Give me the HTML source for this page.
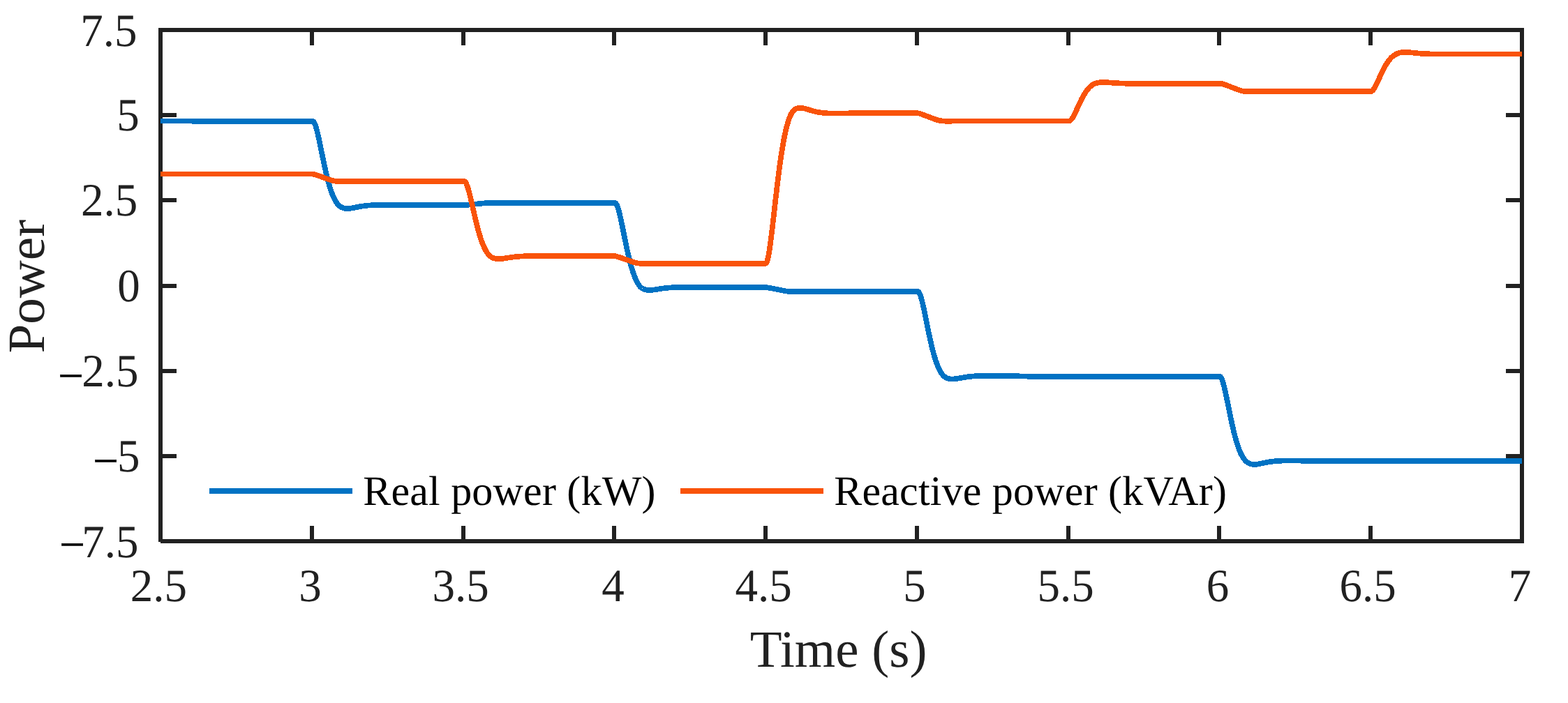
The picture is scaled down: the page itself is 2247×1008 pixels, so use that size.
<!DOCTYPE html>
<html lang="en"><head><meta charset="utf-8"><title>Power vs Time</title>
<style>html,body{margin:0;padding:0;background:#fff}body{width:2247px;height:1008px;overflow:hidden}svg{display:block}text{font-family:"Liberation Serif",serif;text-rendering:geometricPrecision}</style></head><body>
<svg width="2247" height="1008" viewBox="0 0 2247 1008">
<rect width="2247" height="1008" fill="#fff"/>
<g fill="#212121" shape-rendering="crispEdges">
<rect x="444" y="754" width="6" height="22"/>
<rect x="444" y="43" width="6" height="22"/>
<rect x="661" y="754" width="6" height="22"/>
<rect x="661" y="43" width="6" height="22"/>
<rect x="877" y="754" width="6" height="22"/>
<rect x="877" y="43" width="6" height="22"/>
<rect x="1094" y="754" width="6" height="22"/>
<rect x="1094" y="43" width="6" height="22"/>
<rect x="1311" y="754" width="6" height="22"/>
<rect x="1311" y="43" width="6" height="22"/>
<rect x="1528" y="754" width="6" height="22"/>
<rect x="1528" y="43" width="6" height="22"/>
<rect x="1744" y="754" width="6" height="22"/>
<rect x="1744" y="43" width="6" height="22"/>
<rect x="1961" y="754" width="6" height="22"/>
<rect x="1961" y="43" width="6" height="22"/>
<rect x="230" y="162" width="23" height="6"/>
<rect x="2158" y="162" width="23" height="6"/>
<rect x="230" y="284" width="23" height="6"/>
<rect x="2158" y="284" width="23" height="6"/>
<rect x="230" y="407" width="23" height="6"/>
<rect x="2158" y="407" width="23" height="6"/>
<rect x="230" y="529" width="23" height="6"/>
<rect x="2158" y="529" width="23" height="6"/>
<rect x="230" y="651" width="23" height="6"/>
<rect x="2158" y="651" width="23" height="6"/>
<rect x="227" y="40" width="1957" height="6"/>
<rect x="230" y="773" width="1954" height="6"/>
<rect x="227" y="40" width="6" height="737"/>
<rect x="2178" y="40" width="6" height="739"/>
</g>
<g fill="none" stroke-linejoin="round" stroke-linecap="butt" stroke-width="7.70" shape-rendering="crispEdges">
<path stroke="#0072C3" d="M230.0,173.60 L270.0,173.60 L270.5,173.60 L271.0,173.61 L271.5,173.61 L272.0,173.62 L272.5,173.62 L273.0,173.63 L273.5,173.63 L274.0,173.64 L274.5,173.65 L275.0,173.65 L275.5,173.66 L276.0,173.66 L276.5,173.67 L277.0,173.68 L277.5,173.68 L278.0,173.69 L278.5,173.70 L279.0,173.70 L279.5,173.71 L280.0,173.72 L280.5,173.72 L281.0,173.73 L281.5,173.74 L282.0,173.74 L282.5,173.75 L283.0,173.76 L283.5,173.76 L284.0,173.77 L284.5,173.78 L285.0,173.79 L285.5,173.79 L286.0,173.80 L286.5,173.81 L287.0,173.81 L287.5,173.82 L288.0,173.83 L288.5,173.83 L289.0,173.84 L289.5,173.85 L290.0,173.85 L290.5,173.86 L291.0,173.87 L291.5,173.87 L292.0,173.88 L292.5,173.89 L293.0,173.89 L293.5,173.90 L294.0,173.91 L294.5,173.91 L295.0,173.92 L295.5,173.93 L296.0,173.93 L296.5,173.94 L297.0,173.94 L297.5,173.95 L298.0,173.95 L298.5,173.96 L299.0,173.96 L299.5,173.97 L300.0,173.97 L300.5,173.98 L301.0,173.98 L301.5,173.98 L302.0,173.99 L302.5,173.99 L303.0,173.99 L303.5,173.99 L304.0,174.00 L304.5,174.00 L448.0,174.00 L448.5,174.02 L449.0,174.23 L449.5,174.67 L450.0,175.31 L450.5,176.15 L451.0,177.17 L451.5,178.35 L452.0,179.69 L452.5,181.18 L453.0,182.79 L453.5,184.52 L454.0,186.36 L454.5,188.30 L455.0,190.33 L455.5,192.44 L456.0,194.62 L456.5,196.86 L457.0,199.15 L457.5,201.49 L458.0,203.86 L458.5,206.27 L459.0,208.70 L459.5,211.15 L460.0,213.61 L460.5,216.08 L461.0,218.55 L461.5,221.01 L462.0,223.47 L462.5,225.91 L463.0,228.34 L463.5,230.75 L464.0,233.13 L464.5,235.49 L465.0,237.82 L465.5,240.11 L466.0,242.37 L466.5,244.59 L467.0,246.77 L467.5,248.91 L468.0,251.01 L468.5,253.06 L469.0,255.07 L469.5,257.03 L470.0,258.94 L470.5,260.80 L471.0,262.62 L471.5,264.38 L472.0,266.10 L472.5,267.76 L473.0,269.37 L473.5,270.93 L474.0,272.44 L474.5,273.91 L475.0,275.32 L475.5,276.68 L476.0,277.99 L476.5,279.25 L477.0,280.46 L477.5,281.63 L478.0,282.75 L478.5,283.82 L479.0,284.84 L479.5,285.83 L480.0,286.76 L480.5,287.66 L481.0,288.51 L481.5,289.32 L482.0,290.09 L482.5,290.82 L483.0,291.51 L483.5,292.16 L484.0,292.78 L484.5,293.36 L485.0,293.91 L485.5,294.41 L486.0,294.86 L486.5,295.28 L487.0,295.67 L487.5,296.03 L488.0,296.37 L488.5,296.68 L489.0,296.97 L489.5,297.23 L490.0,297.47 L490.5,297.69 L491.0,297.90 L491.5,298.08 L492.0,298.24 L492.5,298.38 L493.0,298.51 L493.5,298.62 L494.0,298.72 L494.5,298.80 L495.0,298.86 L495.5,298.92 L496.0,298.96 L496.5,298.98 L497.0,299.00 L497.5,299.01 L498.0,299.01 L498.5,298.99 L499.0,298.97 L499.5,298.94 L500.0,298.91 L500.5,298.86 L501.0,298.81 L501.5,298.76 L502.0,298.70 L502.5,298.63 L503.0,298.56 L503.5,298.48 L504.0,298.41 L504.5,298.32 L505.0,298.24 L505.5,298.15 L506.0,298.06 L506.5,297.97 L507.0,297.87 L507.5,297.78 L508.0,297.68 L508.5,297.58 L509.0,297.48 L509.5,297.39 L510.0,297.29 L510.5,297.19 L511.0,297.09 L511.5,296.99 L512.0,296.89 L512.5,296.80 L513.0,296.70 L513.5,296.61 L514.0,296.51 L514.5,296.42 L515.0,296.33 L515.5,296.24 L516.0,296.15 L516.5,296.06 L517.0,295.98 L517.5,295.90 L518.0,295.81 L518.5,295.73 L519.0,295.66 L519.5,295.58 L520.0,295.51 L520.5,295.44 L521.0,295.37 L521.5,295.30 L522.0,295.23 L522.5,295.17 L523.0,295.11 L523.5,295.05 L524.0,294.99 L524.5,294.93 L525.0,294.88 L525.5,294.83 L526.0,294.78 L526.5,294.73 L527.0,294.68 L527.5,294.64 L528.0,294.60 L528.5,294.56 L529.0,294.52 L529.5,294.48 L530.0,294.45 L530.5,294.41 L531.0,294.38 L531.5,294.35 L532.0,294.32 L532.5,294.30 L533.0,294.27 L533.5,294.25 L534.0,294.22 L534.5,294.20 L535.0,294.18 L535.5,294.16 L536.0,294.14 L536.5,294.12 L537.0,294.11 L537.5,294.09 L538.0,294.08 L538.5,294.07 L539.0,294.05 L539.5,294.04 L540.0,294.03 L540.5,294.02 L541.0,294.02 L541.5,294.01 L542.0,294.00 L542.5,294.00 L543.0,293.99 L543.5,293.99 L544.0,293.98 L544.5,293.98 L545.0,293.98 L545.5,293.98 L546.0,293.98 L548.0,293.98 L548.5,293.98 L549.0,293.98 L549.5,293.98 L550.0,293.98 L550.5,293.99 L551.0,293.99 L551.5,293.99 L552.0,293.99 L552.5,294.00 L553.0,294.00 L553.5,294.01 L554.0,294.01 L554.5,294.01 L555.0,294.02 L555.5,294.02 L556.0,294.03 L556.5,294.03 L557.0,294.03 L557.5,294.04 L558.0,294.04 L558.5,294.05 L559.0,294.05 L559.5,294.06 L560.0,294.06 L560.5,294.07 L561.0,294.07 L561.5,294.08 L562.0,294.08 L562.5,294.09 L563.0,294.09 L563.5,294.09 L564.0,294.10 L564.5,294.10 L565.0,294.11 L565.5,294.11 L566.0,294.11 L566.5,294.12 L567.0,294.12 L567.5,294.13 L568.0,294.13 L568.5,294.13 L569.0,294.14 L569.5,294.14 L570.0,294.14 L570.5,294.15 L571.0,294.15 L571.5,294.15 L572.0,294.16 L572.5,294.16 L573.0,294.16 L573.5,294.16 L574.0,294.17 L574.5,294.17 L575.0,294.17 L575.5,294.17 L576.0,294.18 L576.5,294.18 L577.0,294.18 L577.5,294.18 L578.0,294.18 L578.5,294.19 L579.0,294.19 L579.5,294.19 L580.0,294.19 L580.5,294.19 L581.0,294.19 L581.5,294.19 L582.0,294.20 L582.5,294.20 L583.0,294.20 L583.5,294.20 L584.5,294.20 L585.5,294.20 L586.5,294.20 L587.5,294.21 L589.0,294.21 L590.5,294.21 L593.0,294.21 L604.0,294.21 L607.0,294.21 L610.0,294.21 L613.0,294.20 L616.5,294.20 L620.5,294.20 L625.5,294.20 L634.5,294.20 L665.0,294.20 L665.5,294.17 L666.0,294.13 L666.5,294.09 L667.0,294.06 L667.5,294.02 L668.0,293.97 L668.5,293.93 L669.0,293.89 L669.5,293.84 L670.0,293.80 L670.5,293.75 L671.0,293.70 L671.5,293.65 L672.0,293.60 L672.5,293.55 L673.0,293.50 L673.5,293.45 L674.0,293.40 L674.5,293.35 L675.0,293.29 L675.5,293.24 L676.0,293.19 L676.5,293.14 L677.0,293.08 L677.5,293.03 L678.0,292.98 L678.5,292.93 L679.0,292.87 L679.5,292.82 L680.0,292.77 L680.5,292.71 L681.0,292.66 L681.5,292.60 L682.0,292.55 L682.5,292.50 L683.0,292.44 L683.5,292.39 L684.0,292.34 L684.5,292.29 L685.0,292.24 L685.5,292.18 L686.0,292.13 L686.5,292.08 L687.0,292.02 L687.5,291.97 L688.0,291.92 L688.5,291.87 L689.0,291.82 L689.5,291.77 L690.0,291.72 L690.5,291.67 L691.0,291.63 L691.5,291.58 L692.0,291.54 L692.5,291.50 L693.0,291.46 L693.5,291.42 L694.0,291.38 L694.5,291.35 L695.0,291.31 L695.5,291.28 L696.0,291.26 L696.5,291.23 L697.0,291.20 L697.5,291.18 L698.0,291.16 L698.5,291.14 L699.0,291.12 L699.5,291.11 L700.0,291.10 L881.0,291.10 L881.5,291.10 L882.0,291.27 L882.5,291.67 L883.0,292.27 L883.5,293.08 L884.0,294.07 L884.5,295.23 L885.0,296.55 L885.5,298.01 L886.0,299.61 L886.5,301.33 L887.0,303.17 L887.5,305.10 L888.0,307.13 L888.5,309.23 L889.0,311.41 L889.5,313.65 L890.0,315.95 L890.5,318.30 L891.0,320.68 L891.5,323.10 L892.0,325.54 L892.5,328.00 L893.0,330.48 L893.5,332.96 L894.0,335.45 L894.5,337.93 L895.0,340.41 L895.5,342.87 L896.0,345.32 L896.5,347.75 L897.0,350.15 L897.5,352.53 L898.0,354.88 L898.5,357.19 L899.0,359.47 L899.5,361.72 L900.0,363.92 L900.5,366.08 L901.0,368.20 L901.5,370.28 L902.0,372.31 L902.5,374.29 L903.0,376.23 L903.5,378.11 L904.0,379.95 L904.5,381.73 L905.0,383.47 L905.5,385.15 L906.0,386.79 L906.5,388.37 L907.0,389.90 L907.5,391.38 L908.0,392.81 L908.5,394.19 L909.0,395.52 L909.5,396.80 L910.0,398.03 L910.5,399.21 L911.0,400.35 L911.5,401.44 L912.0,402.48 L912.5,403.48 L913.0,404.43 L913.5,405.34 L914.0,406.20 L914.5,407.03 L915.0,407.81 L915.5,408.55 L916.0,409.26 L916.5,409.92 L917.0,410.55 L917.5,411.14 L918.0,411.70 L918.5,412.19 L919.0,412.56 L919.5,412.90 L920.0,413.22 L920.5,413.52 L921.0,413.79 L921.5,414.05 L922.0,414.28 L922.5,414.50 L923.0,414.70 L923.5,414.88 L924.0,415.05 L924.5,415.19 L925.0,415.33 L925.5,415.45 L926.0,415.55 L926.5,415.64 L927.0,415.72 L927.5,415.79 L928.0,415.84 L928.5,415.89 L929.0,415.92 L929.5,415.95 L930.0,415.97 L930.5,415.97 L931.0,415.97 L931.5,415.96 L932.0,415.95 L932.5,415.93 L933.0,415.90 L933.5,415.86 L934.0,415.82 L934.5,415.78 L935.0,415.73 L935.5,415.68 L936.0,415.62 L936.5,415.56 L937.0,415.50 L937.5,415.43 L938.0,415.37 L938.5,415.29 L939.0,415.22 L939.5,415.15 L940.0,415.07 L940.5,415.00 L941.0,414.92 L941.5,414.84 L942.0,414.76 L942.5,414.68 L943.0,414.60 L943.5,414.52 L944.0,414.44 L944.5,414.36 L945.0,414.28 L945.5,414.21 L946.0,414.13 L946.5,414.05 L947.0,413.98 L947.5,413.90 L948.0,413.83 L948.5,413.76 L949.0,413.68 L949.5,413.61 L950.0,413.55 L950.5,413.48 L951.0,413.41 L951.5,413.35 L952.0,413.29 L952.5,413.22 L953.0,413.16 L953.5,413.11 L954.0,413.05 L954.5,412.99 L955.0,412.94 L955.5,412.89 L956.0,412.84 L956.5,412.79 L957.0,412.74 L957.5,412.70 L958.0,412.66 L958.5,412.61 L959.0,412.57 L959.5,412.54 L960.0,412.50 L960.5,412.46 L961.0,412.43 L961.5,412.40 L962.0,412.36 L962.5,412.33 L963.0,412.31 L963.5,412.28 L964.0,412.25 L964.5,412.23 L965.0,412.20 L965.5,412.18 L966.0,412.16 L966.5,412.14 L967.0,412.12 L967.5,412.11 L968.0,412.09 L968.5,412.07 L969.0,412.05 L969.5,412.03 L970.0,412.01 L970.5,412.00 L971.0,411.98 L971.5,411.97 L972.0,411.96 L972.5,411.94 L973.0,411.93 L973.5,411.92 L974.0,411.92 L974.5,411.91 L975.0,411.90 L975.5,411.90 L976.0,411.89 L976.5,411.89 L977.0,411.88 L977.5,411.88 L978.0,411.88 L978.5,411.88 L979.0,411.87 L981.0,411.87 L981.5,411.88 L982.0,411.88 L982.5,411.88 L983.0,411.88 L983.5,411.88 L984.0,411.89 L984.5,411.89 L985.0,411.89 L985.5,411.90 L986.0,411.90 L986.5,411.90 L987.0,411.91 L987.5,411.91 L988.0,411.92 L988.5,411.92 L989.0,411.92 L989.5,411.93 L990.0,411.93 L990.5,411.94 L991.0,411.94 L991.5,411.95 L992.0,411.95 L992.5,411.96 L993.0,411.96 L993.5,411.97 L994.0,411.97 L994.5,411.97 L995.0,411.98 L995.5,411.98 L996.0,411.99 L996.5,411.99 L997.0,412.00 L997.5,412.00 L998.0,412.01 L998.5,412.01 L999.0,412.01 L999.5,412.02 L1000.0,412.02 L1000.5,412.02 L1001.0,412.03 L1001.5,412.03 L1002.0,412.04 L1002.5,412.04 L1003.0,412.04 L1003.5,412.05 L1004.0,412.05 L1004.5,412.05 L1005.0,412.06 L1005.5,412.06 L1006.0,412.06 L1006.5,412.06 L1007.0,412.07 L1007.5,412.07 L1008.0,412.07 L1008.5,412.07 L1009.0,412.08 L1009.5,412.08 L1010.0,412.08 L1010.5,412.08 L1011.0,412.08 L1011.5,412.09 L1012.0,412.09 L1012.5,412.09 L1013.0,412.09 L1013.5,412.09 L1014.0,412.09 L1014.5,412.09 L1015.0,412.10 L1015.5,412.10 L1016.0,412.10 L1016.5,412.10 L1017.5,412.10 L1018.5,412.10 L1019.5,412.10 L1021.0,412.10 L1022.5,412.11 L1025.0,412.11 L1038.5,412.11 L1042.0,412.10 L1045.5,412.10 L1049.5,412.10 L1054.5,412.10 L1061.5,412.10 L1098.0,412.10 L1098.5,412.16 L1099.0,412.23 L1099.5,412.30 L1100.0,412.37 L1100.5,412.45 L1101.0,412.53 L1101.5,412.61 L1102.0,412.69 L1102.5,412.78 L1103.0,412.87 L1103.5,412.96 L1104.0,413.05 L1104.5,413.14 L1105.0,413.24 L1105.5,413.33 L1106.0,413.43 L1106.5,413.53 L1107.0,413.63 L1107.5,413.73 L1108.0,413.83 L1108.5,413.93 L1109.0,414.02 L1109.5,414.12 L1110.0,414.22 L1110.5,414.32 L1111.0,414.42 L1111.5,414.52 L1112.0,414.63 L1112.5,414.73 L1113.0,414.83 L1113.5,414.93 L1114.0,415.03 L1114.5,415.14 L1115.0,415.24 L1115.5,415.34 L1116.0,415.44 L1116.5,415.54 L1117.0,415.64 L1117.5,415.74 L1118.0,415.84 L1118.5,415.94 L1119.0,416.04 L1119.5,416.14 L1120.0,416.24 L1120.5,416.34 L1121.0,416.44 L1121.5,416.54 L1122.0,416.63 L1122.5,416.73 L1123.0,416.82 L1123.5,416.91 L1124.0,417.00 L1124.5,417.08 L1125.0,417.16 L1125.5,417.24 L1126.0,417.32 L1126.5,417.39 L1127.0,417.46 L1127.5,417.53 L1128.0,417.59 L1128.5,417.65 L1129.0,417.71 L1129.5,417.76 L1130.0,417.80 L1130.5,417.85 L1131.0,417.89 L1131.5,417.93 L1132.0,417.96 L1132.5,417.99 L1133.0,418.00 L1315.0,418.00 L1315.5,418.02 L1316.0,418.23 L1316.5,418.67 L1317.0,419.32 L1317.5,420.17 L1318.0,421.19 L1318.5,422.39 L1319.0,423.74 L1319.5,425.23 L1320.0,426.86 L1320.5,428.60 L1321.0,430.46 L1321.5,432.41 L1322.0,434.46 L1322.5,436.58 L1323.0,438.77 L1323.5,441.03 L1324.0,443.34 L1324.5,445.69 L1325.0,448.09 L1325.5,450.51 L1326.0,452.96 L1326.5,455.43 L1327.0,457.91 L1327.5,460.39 L1328.0,462.88 L1328.5,465.36 L1329.0,467.84 L1329.5,470.30 L1330.0,472.75 L1330.5,475.18 L1331.0,477.58 L1331.5,479.95 L1332.0,482.30 L1332.5,484.61 L1333.0,486.88 L1333.5,489.12 L1334.0,491.32 L1334.5,493.47 L1335.0,495.59 L1335.5,497.65 L1336.0,499.68 L1336.5,501.65 L1337.0,503.58 L1337.5,505.45 L1338.0,507.28 L1338.5,509.06 L1339.0,510.79 L1339.5,512.46 L1340.0,514.09 L1340.5,515.66 L1341.0,517.18 L1341.5,518.65 L1342.0,520.07 L1342.5,521.45 L1343.0,522.77 L1343.5,524.04 L1344.0,525.26 L1344.5,526.43 L1345.0,527.56 L1345.5,528.64 L1346.0,529.67 L1346.5,530.66 L1347.0,531.61 L1347.5,532.51 L1348.0,533.36 L1348.5,534.18 L1349.0,534.96 L1349.5,535.69 L1350.0,536.39 L1350.5,537.05 L1351.0,537.67 L1351.5,538.26 L1352.0,538.81 L1352.5,539.29 L1353.0,539.70 L1353.5,540.08 L1354.0,540.43 L1354.5,540.76 L1355.0,541.06 L1355.5,541.35 L1356.0,541.61 L1356.5,541.85 L1357.0,542.07 L1357.5,542.27 L1358.0,542.45 L1358.5,542.61 L1359.0,542.76 L1359.5,542.89 L1360.0,543.01 L1360.5,543.11 L1361.0,543.19 L1361.5,543.27 L1362.0,543.33 L1362.5,543.38 L1363.0,543.41 L1363.5,543.44 L1364.0,543.45 L1364.5,543.46 L1365.0,543.46 L1365.5,543.45 L1366.0,543.43 L1366.5,543.40 L1367.0,543.37 L1367.5,543.33 L1368.0,543.28 L1368.5,543.23 L1369.0,543.18 L1369.5,543.12 L1370.0,543.05 L1370.5,542.98 L1371.0,542.91 L1371.5,542.84 L1372.0,542.76 L1372.5,542.68 L1373.0,542.60 L1373.5,542.51 L1374.0,542.43 L1374.5,542.34 L1375.0,542.26 L1375.5,542.17 L1376.0,542.08 L1376.5,541.99 L1377.0,541.90 L1377.5,541.81 L1378.0,541.72 L1378.5,541.63 L1379.0,541.54 L1379.5,541.45 L1380.0,541.37 L1380.5,541.28 L1381.0,541.20 L1381.5,541.11 L1382.0,541.03 L1382.5,540.95 L1383.0,540.87 L1383.5,540.79 L1384.0,540.71 L1384.5,540.64 L1385.0,540.56 L1385.5,540.49 L1386.0,540.42 L1386.5,540.35 L1387.0,540.29 L1387.5,540.22 L1388.0,540.16 L1388.5,540.10 L1389.0,540.04 L1389.5,539.98 L1390.0,539.92 L1390.5,539.87 L1391.0,539.82 L1391.5,539.77 L1392.0,539.72 L1392.5,539.67 L1393.0,539.62 L1393.5,539.58 L1394.0,539.54 L1394.5,539.50 L1395.0,539.46 L1395.5,539.43 L1396.0,539.39 L1396.5,539.36 L1397.0,539.32 L1397.5,539.29 L1398.0,539.27 L1398.5,539.24 L1399.0,539.21 L1399.5,539.19 L1400.0,539.16 L1400.5,539.14 L1401.0,539.12 L1401.5,539.10 L1402.0,539.08 L1402.5,539.06 L1403.0,539.04 L1403.5,539.02 L1404.0,539.01 L1404.5,538.99 L1405.0,538.98 L1405.5,538.96 L1406.0,538.95 L1406.5,538.94 L1407.0,538.93 L1407.5,538.92 L1408.0,538.91 L1408.5,538.91 L1409.0,538.90 L1409.5,538.90 L1410.0,538.89 L1410.5,538.89 L1411.0,538.88 L1411.5,538.88 L1412.0,538.88 L1412.5,538.88 L1413.0,538.87 L1415.0,538.87 L1415.5,538.88 L1416.0,538.88 L1416.5,538.88 L1417.0,538.88 L1417.5,538.88 L1418.0,538.89 L1418.5,538.89 L1419.0,538.89 L1419.5,538.90 L1420.0,538.90 L1420.5,538.90 L1421.0,538.91 L1421.5,538.91 L1422.0,538.92 L1422.5,538.92 L1423.0,538.92 L1423.5,538.93 L1424.0,538.93 L1424.5,538.94 L1425.0,538.94 L1425.5,538.95 L1426.0,538.95 L1426.5,538.96 L1427.0,538.96 L1427.5,538.97 L1428.0,538.97 L1428.5,538.98 L1429.0,538.98 L1429.5,538.98 L1430.0,538.99 L1430.5,538.99 L1431.0,539.00 L1431.5,539.00 L1432.0,539.01 L1432.5,539.01 L1433.0,539.01 L1433.5,539.02 L1434.0,539.02 L1434.5,539.03 L1435.0,539.03 L1435.5,539.03 L1436.0,539.04 L1436.5,539.04 L1437.0,539.04 L1437.5,539.05 L1438.0,539.05 L1438.5,539.05 L1439.0,539.06 L1439.5,539.06 L1440.0,539.06 L1440.5,539.06 L1441.0,539.07 L1441.5,539.07 L1442.0,539.07 L1442.5,539.07 L1443.0,539.08 L1443.5,539.08 L1444.0,539.08 L1444.5,539.08 L1445.0,539.08 L1445.5,539.09 L1446.0,539.09 L1446.5,539.09 L1447.0,539.09 L1447.5,539.09 L1448.0,539.09 L1448.5,539.09 L1449.0,539.10 L1449.5,539.10 L1450.0,539.10 L1450.5,539.11 L1451.0,539.12 L1451.5,539.13 L1452.0,539.14 L1452.5,539.15 L1453.0,539.16 L1453.5,539.17 L1454.0,539.18 L1454.5,539.20 L1455.0,539.21 L1455.5,539.22 L1456.0,539.23 L1456.5,539.25 L1457.0,539.26 L1457.5,539.27 L1458.0,539.29 L1458.5,539.30 L1459.0,539.31 L1459.5,539.33 L1460.0,539.34 L1460.5,539.35 L1461.0,539.37 L1461.5,539.38 L1462.0,539.39 L1462.5,539.41 L1463.0,539.42 L1463.5,539.43 L1464.0,539.45 L1464.5,539.46 L1465.0,539.47 L1465.5,539.49 L1466.0,539.50 L1466.5,539.52 L1467.0,539.53 L1467.5,539.54 L1468.0,539.56 L1468.5,539.57 L1469.0,539.58 L1469.5,539.60 L1470.0,539.61 L1470.5,539.62 L1471.0,539.64 L1471.5,539.65 L1472.0,539.66 L1472.5,539.68 L1473.0,539.69 L1473.5,539.70 L1474.0,539.72 L1474.5,539.73 L1475.0,539.74 L1475.5,539.75 L1476.0,539.76 L1476.5,539.78 L1477.0,539.79 L1477.5,539.80 L1478.0,539.81 L1478.5,539.82 L1479.0,539.83 L1479.5,539.84 L1480.0,539.84 L1480.5,539.85 L1481.0,539.86 L1481.5,539.87 L1482.0,539.87 L1482.5,539.88 L1483.0,539.88 L1483.5,539.89 L1484.0,539.89 L1484.5,539.90 L1485.0,539.90 L1748.0,539.90 L1748.5,540.02 L1749.0,540.37 L1749.5,540.94 L1750.0,541.70 L1750.5,542.65 L1751.0,543.78 L1751.5,545.07 L1752.0,546.50 L1752.5,548.07 L1753.0,549.77 L1753.5,551.58 L1754.0,553.49 L1754.5,555.50 L1755.0,557.58 L1755.5,559.75 L1756.0,561.97 L1756.5,564.26 L1757.0,566.59 L1757.5,568.96 L1758.0,571.37 L1758.5,573.81 L1759.0,576.26 L1759.5,578.73 L1760.0,581.21 L1760.5,583.70 L1761.0,586.18 L1761.5,588.65 L1762.0,591.11 L1762.5,593.56 L1763.0,595.99 L1763.5,598.40 L1764.0,600.78 L1764.5,603.13 L1765.0,605.45 L1765.5,607.74 L1766.0,609.98 L1766.5,612.19 L1767.0,614.36 L1767.5,616.49 L1768.0,618.57 L1768.5,620.61 L1769.0,622.60 L1769.5,624.54 L1770.0,626.43 L1770.5,628.27 L1771.0,630.07 L1771.5,631.81 L1772.0,633.50 L1772.5,635.15 L1773.0,636.74 L1773.5,638.28 L1774.0,639.76 L1774.5,641.20 L1775.0,642.59 L1775.5,643.93 L1776.0,645.22 L1776.5,646.46 L1777.0,647.65 L1777.5,648.79 L1778.0,649.89 L1778.5,650.94 L1779.0,651.94 L1779.5,652.90 L1780.0,653.82 L1780.5,654.69 L1781.0,655.52 L1781.5,656.31 L1782.0,657.06 L1782.5,657.77 L1783.0,658.44 L1783.5,659.08 L1784.0,659.68 L1784.5,660.24 L1785.0,660.78 L1785.5,661.27 L1786.0,661.74 L1786.5,662.17 L1787.0,662.57 L1787.5,662.95 L1788.0,663.30 L1788.5,663.62 L1789.0,663.91 L1789.5,664.19 L1790.0,664.43 L1790.5,664.66 L1791.0,664.86 L1791.5,665.05 L1792.0,665.21 L1792.5,665.36 L1793.0,665.48 L1793.5,665.59 L1794.0,665.68 L1794.5,665.76 L1795.0,665.83 L1795.5,665.87 L1796.0,665.91 L1796.5,665.93 L1797.0,665.95 L1797.5,665.95 L1798.0,665.94 L1798.5,665.92 L1799.0,665.89 L1799.5,665.86 L1800.0,665.81 L1800.5,665.76 L1801.0,665.70 L1801.5,665.64 L1802.0,665.57 L1802.5,665.49 L1803.0,665.41 L1803.5,665.33 L1804.0,665.24 L1804.5,665.15 L1805.0,665.06 L1805.5,664.96 L1806.0,664.86 L1806.5,664.76 L1807.0,664.66 L1807.5,664.55 L1808.0,664.45 L1808.5,664.34 L1809.0,664.24 L1809.5,664.13 L1810.0,664.02 L1810.5,663.92 L1811.0,663.81 L1811.5,663.70 L1812.0,663.60 L1812.5,663.49 L1813.0,663.39 L1813.5,663.29 L1814.0,663.19 L1814.5,663.09 L1815.0,662.99 L1815.5,662.90 L1816.0,662.80 L1816.5,662.71 L1817.0,662.62 L1817.5,662.53 L1818.0,662.44 L1818.5,662.36 L1819.0,662.27 L1819.5,662.19 L1820.0,662.12 L1820.5,662.04 L1821.0,661.97 L1821.5,661.89 L1822.0,661.82 L1822.5,661.76 L1823.0,661.69 L1823.5,661.63 L1824.0,661.57 L1824.5,661.51 L1825.0,661.45 L1825.5,661.40 L1826.0,661.34 L1826.5,661.29 L1827.0,661.25 L1827.5,661.20 L1828.0,661.15 L1828.5,661.11 L1829.0,661.07 L1829.5,661.03 L1830.0,661.00 L1830.5,660.96 L1831.0,660.93 L1831.5,660.90 L1832.0,660.87 L1832.5,660.84 L1833.0,660.81 L1833.5,660.79 L1834.0,660.76 L1834.5,660.74 L1835.0,660.72 L1835.5,660.70 L1836.0,660.68 L1836.5,660.66 L1837.0,660.65 L1837.5,660.63 L1838.0,660.62 L1838.5,660.61 L1839.0,660.60 L1839.5,660.59 L1840.0,660.58 L1840.5,660.57 L1841.0,660.56 L1841.5,660.55 L1842.0,660.55 L1842.5,660.54 L1843.0,660.54 L1843.5,660.53 L1844.0,660.53 L1844.5,660.53 L1845.0,660.53 L1845.5,660.53 L1846.5,660.52 L1848.0,660.53 L1848.5,660.53 L1849.0,660.53 L1849.5,660.53 L1850.0,660.53 L1850.5,660.54 L1851.0,660.54 L1851.5,660.54 L1852.0,660.55 L1852.5,660.55 L1853.0,660.55 L1853.5,660.56 L1854.0,660.56 L1854.5,660.56 L1855.0,660.57 L1855.5,660.57 L1856.0,660.58 L1856.5,660.58 L1857.0,660.59 L1857.5,660.59 L1858.0,660.60 L1858.5,660.60 L1859.0,660.61 L1859.5,660.61 L1860.0,660.61 L1860.5,660.62 L1861.0,660.62 L1861.5,660.63 L1862.0,660.63 L1862.5,660.64 L1863.0,660.64 L1863.5,660.65 L1864.0,660.65 L1864.5,660.65 L1865.0,660.66 L1865.5,660.66 L1866.0,660.67 L1866.5,660.67 L1867.0,660.67 L1867.5,660.68 L1868.0,660.68 L1868.5,660.69 L1869.0,660.69 L1869.5,660.69 L1870.0,660.70 L1870.5,660.70 L1871.0,660.70 L1871.5,660.70 L1872.0,660.71 L1872.5,660.71 L1873.0,660.71 L1873.5,660.72 L1874.0,660.72 L1874.5,660.72 L1875.0,660.72 L1875.5,660.73 L1876.0,660.73 L1876.5,660.73 L1877.0,660.73 L1877.5,660.73 L1878.0,660.73 L1878.5,660.74 L1879.0,660.74 L1879.5,660.74 L1880.0,660.74 L1880.5,660.74 L1881.0,660.74 L1881.5,660.75 L1882.0,660.75 L1882.5,660.75 L1883.0,660.75 L1883.5,660.75 L1884.5,660.75 L1885.5,660.75 L1886.5,660.75 L1887.5,660.76 L1889.0,660.76 L1890.5,660.76 L1893.0,660.76 L1903.0,660.76 L1906.0,660.76 L1909.0,660.76 L1912.0,660.75 L1915.0,660.75 L1918.5,660.75 L1922.5,660.75 L1928.0,660.75 L2181.0,660.75"/>
<path stroke="#F9530A" d="M230.0,249.50 L448.0,249.50 L448.5,249.61 L449.0,249.73 L449.5,249.86 L450.0,249.99 L450.5,250.12 L451.0,250.26 L451.5,250.41 L452.0,250.56 L452.5,250.71 L453.0,250.87 L453.5,251.02 L454.0,251.19 L454.5,251.35 L455.0,251.52 L455.5,251.69 L456.0,251.87 L456.5,252.04 L457.0,252.22 L457.5,252.39 L458.0,252.57 L458.5,252.75 L459.0,252.93 L459.5,253.10 L460.0,253.28 L460.5,253.46 L461.0,253.64 L461.5,253.81 L462.0,254.00 L462.5,254.18 L463.0,254.36 L463.5,254.54 L464.0,254.72 L464.5,254.90 L465.0,255.08 L465.5,255.27 L466.0,255.44 L466.5,255.62 L467.0,255.80 L467.5,255.98 L468.0,256.16 L468.5,256.33 L469.0,256.51 L469.5,256.69 L470.0,256.87 L470.5,257.05 L471.0,257.22 L471.5,257.40 L472.0,257.57 L472.5,257.74 L473.0,257.90 L473.5,258.06 L474.0,258.21 L474.5,258.37 L475.0,258.51 L475.5,258.65 L476.0,258.79 L476.5,258.92 L477.0,259.04 L477.5,259.16 L478.0,259.27 L478.5,259.38 L479.0,259.48 L479.5,259.57 L480.0,259.65 L480.5,259.73 L481.0,259.80 L481.5,259.87 L482.0,259.93 L482.5,259.98 L483.0,260.00 L665.0,260.00 L665.5,260.02 L666.0,260.21 L666.5,260.60 L667.0,261.17 L667.5,261.92 L668.0,262.83 L668.5,263.89 L669.0,265.08 L669.5,266.41 L670.0,267.85 L670.5,269.39 L671.0,271.04 L671.5,272.77 L672.0,274.58 L672.5,276.46 L673.0,278.41 L673.5,280.40 L674.0,282.45 L674.5,284.54 L675.0,286.66 L675.5,288.81 L676.0,290.98 L676.5,293.16 L677.0,295.36 L677.5,297.56 L678.0,299.77 L678.5,301.97 L679.0,304.16 L679.5,306.34 L680.0,308.51 L680.5,310.66 L681.0,312.79 L681.5,314.89 L682.0,316.97 L682.5,319.02 L683.0,321.03 L683.5,323.02 L684.0,324.96 L684.5,326.87 L685.0,328.75 L685.5,330.58 L686.0,332.37 L686.5,334.12 L687.0,335.83 L687.5,337.49 L688.0,339.11 L688.5,340.68 L689.0,342.21 L689.5,343.70 L690.0,345.14 L690.5,346.53 L691.0,347.88 L691.5,349.18 L692.0,350.44 L692.5,351.66 L693.0,352.83 L693.5,353.95 L694.0,355.04 L694.5,356.08 L695.0,357.08 L695.5,358.03 L696.0,358.95 L696.5,359.82 L697.0,360.66 L697.5,361.46 L698.0,362.22 L698.5,362.94 L699.0,363.63 L699.5,364.28 L700.0,364.90 L700.5,365.48 L701.0,366.03 L701.5,366.55 L702.0,367.04 L702.5,367.47 L703.0,367.84 L703.5,368.19 L704.0,368.51 L704.5,368.81 L705.0,369.09 L705.5,369.35 L706.0,369.58 L706.5,369.80 L707.0,370.00 L707.5,370.19 L708.0,370.35 L708.5,370.50 L709.0,370.63 L709.5,370.75 L710.0,370.86 L710.5,370.95 L711.0,371.03 L711.5,371.09 L712.0,371.15 L712.5,371.19 L713.0,371.23 L713.5,371.25 L714.0,371.27 L714.5,371.27 L715.0,371.27 L715.5,371.26 L716.0,371.24 L716.5,371.22 L717.0,371.19 L717.5,371.15 L718.0,371.11 L718.5,371.06 L719.0,371.01 L719.5,370.96 L720.0,370.90 L720.5,370.84 L721.0,370.77 L721.5,370.70 L722.0,370.63 L722.5,370.56 L723.0,370.49 L723.5,370.41 L724.0,370.33 L724.5,370.25 L725.0,370.17 L725.5,370.09 L726.0,370.01 L726.5,369.93 L727.0,369.85 L727.5,369.77 L728.0,369.69 L728.5,369.60 L729.0,369.52 L729.5,369.44 L730.0,369.36 L730.5,369.29 L731.0,369.21 L731.5,369.13 L732.0,369.06 L732.5,368.98 L733.0,368.91 L733.5,368.84 L734.0,368.77 L734.5,368.70 L735.0,368.63 L735.5,368.57 L736.0,368.50 L736.5,368.44 L737.0,368.38 L737.5,368.32 L738.0,368.26 L738.5,368.21 L739.0,368.15 L739.5,368.10 L740.0,368.05 L740.5,368.00 L741.0,367.95 L741.5,367.91 L742.0,367.86 L742.5,367.82 L743.0,367.78 L743.5,367.74 L744.0,367.70 L744.5,367.66 L745.0,367.63 L745.5,367.60 L746.0,367.56 L746.5,367.53 L747.0,367.50 L747.5,367.48 L748.0,367.45 L748.5,367.43 L749.0,367.40 L749.5,367.38 L750.0,367.36 L750.5,367.34 L751.0,367.32 L751.5,367.30 L752.0,367.28 L752.5,367.27 L753.0,367.25 L753.5,367.23 L754.0,367.22 L754.5,367.20 L755.0,367.19 L755.5,367.18 L756.0,367.17 L756.5,367.16 L757.0,367.15 L757.5,367.14 L758.0,367.14 L758.5,367.13 L759.0,367.12 L759.5,367.12 L760.0,367.11 L760.5,367.11 L761.0,367.11 L761.5,367.10 L762.0,367.10 L762.5,367.10 L763.0,367.10 L765.0,367.10 L765.5,367.10 L766.0,367.10 L766.5,367.10 L767.0,367.11 L767.5,367.11 L768.0,367.11 L768.5,367.11 L769.0,367.12 L769.5,367.12 L770.0,367.12 L770.5,367.13 L771.0,367.13 L771.5,367.13 L772.0,367.14 L772.5,367.14 L773.0,367.14 L773.5,367.15 L774.0,367.15 L774.5,367.16 L775.0,367.16 L775.5,367.16 L776.0,367.17 L776.5,367.17 L777.0,367.18 L777.5,367.18 L778.0,367.19 L778.5,367.19 L779.0,367.19 L779.5,367.20 L780.0,367.20 L780.5,367.21 L781.0,367.21 L781.5,367.21 L782.0,367.22 L782.5,367.22 L783.0,367.22 L783.5,367.23 L784.0,367.23 L784.5,367.23 L785.0,367.24 L785.5,367.24 L786.0,367.24 L786.5,367.25 L787.0,367.25 L787.5,367.25 L788.0,367.26 L788.5,367.26 L789.0,367.26 L789.5,367.26 L790.0,367.27 L790.5,367.27 L791.0,367.27 L791.5,367.27 L792.0,367.27 L792.5,367.28 L793.0,367.28 L793.5,367.28 L794.0,367.28 L794.5,367.28 L795.0,367.29 L795.5,367.29 L796.0,367.29 L796.5,367.29 L797.0,367.29 L797.5,367.29 L798.0,367.29 L798.5,367.30 L799.0,367.30 L799.5,367.30 L800.5,367.30 L801.5,367.30 L802.5,367.30 L803.5,367.30 L805.0,367.30 L806.5,367.31 L809.0,367.31 L822.5,367.31 L826.0,367.30 L829.5,367.30 L833.5,367.30 L838.0,367.30 L844.5,367.30 L881.5,367.30 L882.0,367.32 L882.5,367.43 L883.0,367.55 L883.5,367.68 L884.0,367.81 L884.5,367.94 L885.0,368.08 L885.5,368.23 L886.0,368.38 L886.5,368.53 L887.0,368.68 L887.5,368.84 L888.0,369.00 L888.5,369.17 L889.0,369.34 L889.5,369.51 L890.0,369.68 L890.5,369.85 L891.0,370.02 L891.5,370.20 L892.0,370.38 L892.5,370.55 L893.0,370.73 L893.5,370.90 L894.0,371.08 L894.5,371.25 L895.0,371.43 L895.5,371.61 L896.0,371.79 L896.5,371.97 L897.0,372.15 L897.5,372.33 L898.0,372.51 L898.5,372.69 L899.0,372.87 L899.5,373.05 L900.0,373.22 L900.5,373.40 L901.0,373.57 L901.5,373.75 L902.0,373.93 L902.5,374.10 L903.0,374.28 L903.5,374.46 L904.0,374.64 L904.5,374.81 L905.0,374.98 L905.5,375.16 L906.0,375.32 L906.5,375.49 L907.0,375.65 L907.5,375.81 L908.0,375.96 L908.5,376.11 L909.0,376.25 L909.5,376.39 L910.0,376.53 L910.5,376.65 L911.0,376.78 L911.5,376.89 L912.0,377.00 L912.5,377.10 L913.0,377.20 L913.5,377.29 L914.0,377.37 L914.5,377.45 L915.0,377.52 L915.5,377.58 L916.0,377.64 L916.5,377.69 L917.0,377.70 L1097.0,377.70 L1097.5,377.69 L1098.0,377.39 L1098.5,376.69 L1099.0,375.61 L1099.5,374.17 L1100.0,372.41 L1100.5,370.34 L1101.0,367.99 L1101.5,365.39 L1102.0,362.54 L1102.5,359.47 L1103.0,356.21 L1103.5,352.76 L1104.0,349.16 L1104.5,345.41 L1105.0,341.53 L1105.5,337.53 L1106.0,333.44 L1106.5,329.26 L1107.0,325.02 L1107.5,320.71 L1108.0,316.36 L1108.5,311.98 L1109.0,307.57 L1109.5,303.15 L1110.0,298.72 L1110.5,294.30 L1111.0,289.89 L1111.5,285.50 L1112.0,281.14 L1112.5,276.82 L1113.0,272.53 L1113.5,268.30 L1114.0,264.12 L1114.5,259.99 L1115.0,255.93 L1115.5,251.93 L1116.0,248.01 L1116.5,244.15 L1117.0,240.38 L1117.5,236.68 L1118.0,233.07 L1118.5,229.54 L1119.0,226.09 L1119.5,222.73 L1120.0,219.46 L1120.5,216.28 L1121.0,213.19 L1121.5,210.19 L1122.0,207.28 L1122.5,204.47 L1123.0,201.74 L1123.5,199.10 L1124.0,196.55 L1124.5,194.10 L1125.0,191.73 L1125.5,189.45 L1126.0,187.26 L1126.5,185.15 L1127.0,183.13 L1127.5,181.19 L1128.0,179.33 L1128.5,177.56 L1129.0,175.86 L1129.5,174.25 L1130.0,172.71 L1130.5,171.24 L1131.0,169.84 L1131.5,168.52 L1132.0,167.27 L1132.5,166.08 L1133.0,164.96 L1133.5,163.90 L1134.0,162.91 L1134.5,162.02 L1135.0,161.30 L1135.5,160.64 L1136.0,160.02 L1136.5,159.44 L1137.0,158.90 L1137.5,158.41 L1138.0,157.95 L1138.5,157.52 L1139.0,157.14 L1139.5,156.78 L1140.0,156.46 L1140.5,156.17 L1141.0,155.91 L1141.5,155.68 L1142.0,155.48 L1142.5,155.30 L1143.0,155.14 L1143.5,155.01 L1144.0,154.91 L1144.5,154.82 L1145.0,154.75 L1145.5,154.70 L1146.0,154.67 L1146.5,154.66 L1147.0,154.66 L1147.5,154.67 L1148.0,154.70 L1148.5,154.75 L1149.0,154.80 L1149.5,154.87 L1150.0,154.94 L1150.5,155.03 L1151.0,155.13 L1151.5,155.23 L1152.0,155.34 L1152.5,155.46 L1153.0,155.58 L1153.5,155.71 L1154.0,155.84 L1154.5,155.98 L1155.0,156.12 L1155.5,156.26 L1156.0,156.41 L1156.5,156.56 L1157.0,156.71 L1157.5,156.86 L1158.0,157.02 L1158.5,157.17 L1159.0,157.33 L1159.5,157.48 L1160.0,157.64 L1160.5,157.79 L1161.0,157.94 L1161.5,158.10 L1162.0,158.25 L1162.5,158.40 L1163.0,158.54 L1163.5,158.69 L1164.0,158.83 L1164.5,158.97 L1165.0,159.11 L1165.5,159.25 L1166.0,159.38 L1166.5,159.51 L1167.0,159.64 L1167.5,159.77 L1168.0,159.89 L1168.5,160.01 L1169.0,160.13 L1169.5,160.24 L1170.0,160.35 L1170.5,160.46 L1171.0,160.56 L1171.5,160.66 L1172.0,160.76 L1172.5,160.85 L1173.0,160.94 L1173.5,161.03 L1174.0,161.12 L1174.5,161.20 L1175.0,161.28 L1175.5,161.35 L1176.0,161.43 L1176.5,161.49 L1177.0,161.56 L1177.5,161.63 L1178.0,161.69 L1178.5,161.74 L1179.0,161.80 L1179.5,161.85 L1180.0,161.90 L1180.5,161.95 L1181.0,162.00 L1181.5,162.04 L1182.0,162.08 L1182.5,162.12 L1183.0,162.15 L1183.5,162.19 L1184.0,162.23 L1184.5,162.26 L1185.0,162.30 L1185.5,162.33 L1186.0,162.36 L1186.5,162.39 L1187.0,162.41 L1187.5,162.44 L1188.0,162.46 L1188.5,162.48 L1189.0,162.50 L1189.5,162.51 L1190.0,162.53 L1190.5,162.54 L1191.0,162.55 L1191.5,162.56 L1192.0,162.57 L1192.5,162.58 L1193.0,162.59 L1193.5,162.59 L1194.0,162.60 L1194.5,162.60 L1195.0,162.60 L1195.5,162.60 L1196.5,162.60 L1197.0,162.60 L1197.5,162.60 L1198.0,162.60 L1198.5,162.59 L1199.0,162.59 L1199.5,162.59 L1200.0,162.58 L1200.5,162.58 L1201.0,162.57 L1201.5,162.56 L1202.0,162.56 L1202.5,162.55 L1203.0,162.54 L1203.5,162.54 L1204.0,162.53 L1204.5,162.52 L1205.0,162.51 L1205.5,162.51 L1206.0,162.50 L1206.5,162.49 L1207.0,162.48 L1207.5,162.47 L1208.0,162.46 L1208.5,162.46 L1209.0,162.45 L1209.5,162.44 L1210.0,162.43 L1210.5,162.42 L1211.0,162.42 L1211.5,162.41 L1212.0,162.40 L1212.5,162.39 L1213.0,162.38 L1213.5,162.38 L1214.0,162.37 L1214.5,162.36 L1215.0,162.35 L1215.5,162.35 L1216.0,162.34 L1216.5,162.33 L1217.0,162.33 L1217.5,162.32 L1218.0,162.31 L1218.5,162.31 L1219.0,162.30 L1219.5,162.30 L1220.0,162.29 L1220.5,162.29 L1221.0,162.28 L1221.5,162.27 L1222.0,162.27 L1222.5,162.27 L1223.0,162.26 L1223.5,162.26 L1224.0,162.25 L1224.5,162.25 L1225.0,162.24 L1225.5,162.24 L1226.0,162.24 L1226.5,162.23 L1227.0,162.23 L1227.5,162.23 L1228.0,162.22 L1228.5,162.22 L1229.0,162.22 L1229.5,162.21 L1230.0,162.21 L1230.5,162.21 L1231.0,162.21 L1231.5,162.21 L1232.0,162.20 L1232.5,162.20 L1233.0,162.20 L1233.5,162.20 L1234.0,162.20 L1234.5,162.20 L1235.0,162.20 L1235.5,162.19 L1236.5,162.19 L1237.5,162.19 L1238.5,162.19 L1239.5,162.19 L1241.0,162.19 L1243.5,162.19 L1250.5,162.19 L1253.0,162.19 L1255.0,162.19 L1257.0,162.19 L1259.0,162.19 L1261.0,162.19 L1263.0,162.19 L1265.0,162.19 L1267.5,162.20 L1270.0,162.20 L1273.0,162.20 L1277.0,162.20 L1283.5,162.20 L1315.0,162.20 L1315.5,162.25 L1316.0,162.37 L1316.5,162.50 L1317.0,162.64 L1317.5,162.78 L1318.0,162.92 L1318.5,163.07 L1319.0,163.23 L1319.5,163.39 L1320.0,163.56 L1320.5,163.72 L1321.0,163.90 L1321.5,164.07 L1322.0,164.25 L1322.5,164.43 L1323.0,164.61 L1323.5,164.80 L1324.0,164.98 L1324.5,165.17 L1325.0,165.36 L1325.5,165.55 L1326.0,165.74 L1326.5,165.93 L1327.0,166.12 L1327.5,166.31 L1328.0,166.50 L1328.5,166.69 L1329.0,166.88 L1329.5,167.07 L1330.0,167.27 L1330.5,167.46 L1331.0,167.65 L1331.5,167.85 L1332.0,168.04 L1332.5,168.23 L1333.0,168.43 L1333.5,168.62 L1334.0,168.81 L1334.5,169.00 L1335.0,169.18 L1335.5,169.38 L1336.0,169.57 L1336.5,169.76 L1337.0,169.95 L1337.5,170.14 L1338.0,170.33 L1338.5,170.51 L1339.0,170.70 L1339.5,170.88 L1340.0,171.05 L1340.5,171.23 L1341.0,171.40 L1341.5,171.56 L1342.0,171.72 L1342.5,171.87 L1343.0,172.02 L1343.5,172.16 L1344.0,172.30 L1344.5,172.43 L1345.0,172.55 L1345.5,172.67 L1346.0,172.78 L1346.5,172.88 L1347.0,172.97 L1347.5,173.06 L1348.0,173.14 L1348.5,173.22 L1349.0,173.29 L1349.5,173.35 L1350.0,173.40 L1350.5,173.45 L1351.0,173.49 L1351.5,173.53 L1352.0,173.56 L1352.5,173.59 L1353.0,173.61 L1353.5,173.63 L1354.0,173.65 L1354.5,173.67 L1355.0,173.69 L1355.5,173.70 L1356.0,173.71 L1356.5,173.72 L1357.0,173.72 L1357.5,173.73 L1358.0,173.73 L1358.5,173.73 L1359.0,173.74 L1359.5,173.74 L1360.0,173.73 L1360.5,173.73 L1361.0,173.72 L1361.5,173.71 L1362.0,173.70 L1362.5,173.69 L1363.0,173.68 L1363.5,173.67 L1364.0,173.65 L1364.5,173.64 L1365.0,173.62 L1365.5,173.61 L1366.0,173.59 L1366.5,173.58 L1367.0,173.57 L1367.5,173.55 L1368.0,173.54 L1368.5,173.53 L1369.0,173.52 L1369.5,173.51 L1370.0,173.50 L1370.5,173.49 L1371.0,173.48 L1371.5,173.48 L1372.0,173.47 L1372.5,173.46 L1373.0,173.45 L1373.5,173.45 L1374.0,173.44 L1374.5,173.43 L1375.0,173.43 L1375.5,173.42 L1376.0,173.42 L1376.5,173.41 L1377.0,173.41 L1377.5,173.41 L1378.0,173.40 L1378.5,173.40 L1379.5,173.40 L1531.5,173.40 L1532.0,173.40 L1532.5,173.32 L1533.0,173.15 L1533.5,172.88 L1534.0,172.52 L1534.5,172.08 L1535.0,171.57 L1535.5,170.99 L1536.0,170.34 L1536.5,169.63 L1537.0,168.87 L1537.5,168.05 L1538.0,167.20 L1538.5,166.30 L1539.0,165.37 L1539.5,164.40 L1540.0,163.41 L1540.5,162.39 L1541.0,161.35 L1541.5,160.30 L1542.0,159.23 L1542.5,158.14 L1543.0,157.05 L1543.5,155.96 L1544.0,154.86 L1544.5,153.76 L1545.0,152.66 L1545.5,151.56 L1546.0,150.47 L1546.5,149.38 L1547.0,148.31 L1547.5,147.24 L1548.0,146.19 L1548.5,145.15 L1549.0,144.12 L1549.5,143.11 L1550.0,142.12 L1550.5,141.14 L1551.0,140.18 L1551.5,139.24 L1552.0,138.33 L1552.5,137.43 L1553.0,136.55 L1553.5,135.69 L1554.0,134.86 L1554.5,134.04 L1555.0,133.25 L1555.5,132.48 L1556.0,131.74 L1556.5,131.01 L1557.0,130.31 L1557.5,129.63 L1558.0,128.98 L1558.5,128.34 L1559.0,127.73 L1559.5,127.14 L1560.0,126.58 L1560.5,126.03 L1561.0,125.51 L1561.5,125.01 L1562.0,124.52 L1562.5,124.06 L1563.0,123.62 L1563.5,123.20 L1564.0,122.80 L1564.5,122.41 L1565.0,122.05 L1565.5,121.70 L1566.0,121.37 L1566.5,121.06 L1567.0,120.77 L1567.5,120.49 L1568.0,120.22 L1568.5,119.98 L1569.0,119.76 L1569.5,119.60 L1570.0,119.45 L1570.5,119.30 L1571.0,119.17 L1571.5,119.05 L1572.0,118.94 L1572.5,118.83 L1573.0,118.74 L1573.5,118.65 L1574.0,118.57 L1574.5,118.50 L1575.0,118.43 L1575.5,118.37 L1576.0,118.32 L1576.5,118.27 L1577.0,118.23 L1577.5,118.20 L1578.0,118.17 L1578.5,118.14 L1579.0,118.12 L1579.5,118.11 L1580.0,118.09 L1580.5,118.09 L1581.0,118.08 L1581.5,118.08 L1582.0,118.09 L1582.5,118.10 L1583.0,118.11 L1583.5,118.12 L1584.0,118.13 L1584.5,118.15 L1585.0,118.17 L1585.5,118.19 L1586.0,118.21 L1586.5,118.24 L1587.0,118.27 L1587.5,118.29 L1588.0,118.32 L1588.5,118.35 L1589.0,118.38 L1589.5,118.42 L1590.0,118.45 L1590.5,118.48 L1591.0,118.52 L1591.5,118.55 L1592.0,118.59 L1592.5,118.62 L1593.0,118.66 L1593.5,118.69 L1594.0,118.73 L1594.5,118.76 L1595.0,118.80 L1595.5,118.83 L1596.0,118.87 L1596.5,118.90 L1597.0,118.94 L1597.5,118.97 L1598.0,119.00 L1598.5,119.03 L1599.0,119.07 L1599.5,119.10 L1600.0,119.13 L1600.5,119.16 L1601.0,119.19 L1601.5,119.22 L1602.0,119.25 L1602.5,119.27 L1603.0,119.30 L1603.5,119.33 L1604.0,119.35 L1604.5,119.38 L1605.0,119.40 L1605.5,119.43 L1606.0,119.45 L1606.5,119.47 L1607.0,119.49 L1607.5,119.51 L1608.0,119.53 L1608.5,119.55 L1609.0,119.57 L1609.5,119.59 L1610.0,119.61 L1610.5,119.62 L1611.0,119.64 L1611.5,119.65 L1612.0,119.67 L1612.5,119.68 L1613.0,119.70 L1613.5,119.71 L1614.0,119.72 L1614.5,119.73 L1615.0,119.74 L1615.5,119.75 L1616.0,119.76 L1616.5,119.77 L1617.0,119.78 L1617.5,119.79 L1618.0,119.80 L1618.5,119.81 L1619.0,119.82 L1619.5,119.82 L1620.0,119.83 L1620.5,119.84 L1621.0,119.85 L1621.5,119.85 L1622.0,119.86 L1622.5,119.86 L1623.0,119.87 L1623.5,119.87 L1624.0,119.88 L1624.5,119.88 L1625.0,119.88 L1625.5,119.89 L1626.0,119.89 L1626.5,119.89 L1627.0,119.89 L1627.5,119.90 L1628.0,119.90 L1628.5,119.90 L1629.5,119.90 L1632.5,119.90 L1633.5,119.90 L1634.0,119.90 L1634.5,119.89 L1635.0,119.89 L1635.5,119.89 L1636.0,119.89 L1636.5,119.89 L1637.0,119.89 L1637.5,119.89 L1638.0,119.88 L1638.5,119.88 L1639.0,119.88 L1639.5,119.88 L1640.0,119.88 L1640.5,119.87 L1641.0,119.87 L1641.5,119.87 L1642.0,119.87 L1642.5,119.87 L1643.0,119.86 L1643.5,119.86 L1644.0,119.86 L1644.5,119.86 L1645.0,119.86 L1645.5,119.85 L1646.0,119.85 L1646.5,119.85 L1647.0,119.85 L1647.5,119.85 L1648.0,119.84 L1648.5,119.84 L1649.0,119.84 L1649.5,119.84 L1650.0,119.84 L1650.5,119.83 L1651.0,119.83 L1651.5,119.83 L1652.0,119.83 L1652.5,119.83 L1653.0,119.83 L1653.5,119.83 L1654.0,119.82 L1654.5,119.82 L1655.0,119.82 L1655.5,119.82 L1656.0,119.82 L1656.5,119.82 L1657.0,119.82 L1657.5,119.82 L1658.0,119.81 L1658.5,119.81 L1659.0,119.81 L1660.0,119.81 L1661.0,119.81 L1662.0,119.81 L1663.0,119.81 L1664.0,119.80 L1665.0,119.80 L1666.0,119.80 L1667.5,119.80 L1669.5,119.80 L1672.5,119.80 L1698.5,119.80 L1710.5,119.80 L1750.0,119.80 L1750.5,119.92 L1751.0,120.05 L1751.5,120.19 L1752.0,120.33 L1752.5,120.48 L1753.0,120.63 L1753.5,120.79 L1754.0,120.95 L1754.5,121.11 L1755.0,121.28 L1755.5,121.45 L1756.0,121.63 L1756.5,121.81 L1757.0,121.99 L1757.5,122.18 L1758.0,122.37 L1758.5,122.56 L1759.0,122.75 L1759.5,122.94 L1760.0,123.13 L1760.5,123.33 L1761.0,123.52 L1761.5,123.71 L1762.0,123.90 L1762.5,124.10 L1763.0,124.29 L1763.5,124.48 L1764.0,124.68 L1764.5,124.88 L1765.0,125.07 L1765.5,125.27 L1766.0,125.47 L1766.5,125.67 L1767.0,125.86 L1767.5,126.06 L1768.0,126.25 L1768.5,126.45 L1769.0,126.64 L1769.5,126.83 L1770.0,127.03 L1770.5,127.22 L1771.0,127.41 L1771.5,127.61 L1772.0,127.80 L1772.5,127.99 L1773.0,128.19 L1773.5,128.37 L1774.0,128.56 L1774.5,128.74 L1775.0,128.92 L1775.5,129.09 L1776.0,129.26 L1776.5,129.43 L1777.0,129.58 L1777.5,129.74 L1778.0,129.88 L1778.5,130.03 L1779.0,130.16 L1779.5,130.29 L1780.0,130.41 L1780.5,130.52 L1781.0,130.63 L1781.5,130.73 L1782.0,130.82 L1782.5,130.91 L1783.0,130.98 L1783.5,131.06 L1784.0,131.12 L1784.5,131.18 L1785.0,131.20 L1964.0,131.20 L1964.5,131.18 L1965.0,131.06 L1965.5,130.85 L1966.0,130.54 L1966.5,130.15 L1967.0,129.68 L1967.5,129.14 L1968.0,128.52 L1968.5,127.85 L1969.0,127.11 L1969.5,126.33 L1970.0,125.50 L1970.5,124.62 L1971.0,123.70 L1971.5,122.75 L1972.0,121.77 L1972.5,120.77 L1973.0,119.74 L1973.5,118.69 L1974.0,117.62 L1974.5,116.54 L1975.0,115.45 L1975.5,114.35 L1976.0,113.25 L1976.5,112.15 L1977.0,111.04 L1977.5,109.94 L1978.0,108.84 L1978.5,107.75 L1979.0,106.66 L1979.5,105.59 L1980.0,104.52 L1980.5,103.47 L1981.0,102.43 L1981.5,101.41 L1982.0,100.40 L1982.5,99.41 L1983.0,98.43 L1983.5,97.48 L1984.0,96.55 L1984.5,95.63 L1985.0,94.74 L1985.5,93.86 L1986.0,93.01 L1986.5,92.18 L1987.0,91.38 L1987.5,90.59 L1988.0,89.83 L1988.5,89.09 L1989.0,88.37 L1989.5,87.68 L1990.0,87.00 L1990.5,86.36 L1991.0,85.73 L1991.5,85.12 L1992.0,84.54 L1992.5,83.98 L1993.0,83.44 L1993.5,82.93 L1994.0,82.43 L1994.5,81.95 L1995.0,81.50 L1995.5,81.06 L1996.0,80.65 L1996.5,80.25 L1997.0,79.87 L1997.5,79.51 L1998.0,79.17 L1998.5,78.85 L1999.0,78.54 L1999.5,78.25 L2000.0,77.98 L2000.5,77.72 L2001.0,77.48 L2001.5,77.24 L2002.0,77.00 L2002.5,76.78 L2003.0,76.57 L2003.5,76.38 L2004.0,76.20 L2004.5,76.04 L2005.0,75.88 L2005.5,75.74 L2006.0,75.62 L2006.5,75.50 L2007.0,75.39 L2007.5,75.30 L2008.0,75.21 L2008.5,75.14 L2009.0,75.07 L2009.5,75.01 L2010.0,74.97 L2010.5,74.92 L2011.0,74.89 L2011.5,74.86 L2012.0,74.84 L2012.5,74.83 L2013.0,74.82 L2013.5,74.82 L2014.0,74.82 L2014.5,74.83 L2015.0,74.84 L2015.5,74.86 L2016.0,74.88 L2016.5,74.90 L2017.0,74.93 L2017.5,74.96 L2018.0,74.99 L2018.5,75.03 L2019.0,75.07 L2019.5,75.11 L2020.0,75.15 L2020.5,75.19 L2021.0,75.24 L2021.5,75.29 L2022.0,75.34 L2022.5,75.39 L2023.0,75.44 L2023.5,75.49 L2024.0,75.54 L2024.5,75.59 L2025.0,75.65 L2025.5,75.70 L2026.0,75.75 L2026.5,75.81 L2027.0,75.86 L2027.5,75.91 L2028.0,75.96 L2028.5,76.02 L2029.0,76.07 L2029.5,76.12 L2030.0,76.17 L2030.5,76.22 L2031.0,76.27 L2031.5,76.31 L2032.0,76.36 L2032.5,76.41 L2033.0,76.45 L2033.5,76.50 L2034.0,76.54 L2034.5,76.58 L2035.0,76.63 L2035.5,76.67 L2036.0,76.71 L2036.5,76.74 L2037.0,76.78 L2037.5,76.82 L2038.0,76.85 L2038.5,76.89 L2039.0,76.92 L2039.5,76.95 L2040.0,76.98 L2040.5,77.01 L2041.0,77.04 L2041.5,77.07 L2042.0,77.09 L2042.5,77.12 L2043.0,77.14 L2043.5,77.17 L2044.0,77.19 L2044.5,77.21 L2045.0,77.23 L2045.5,77.25 L2046.0,77.27 L2046.5,77.29 L2047.0,77.31 L2047.5,77.32 L2048.0,77.34 L2048.5,77.35 L2049.0,77.36 L2049.5,77.38 L2050.0,77.39 L2050.5,77.40 L2051.0,77.41 L2051.5,77.42 L2052.0,77.43 L2052.5,77.44 L2053.0,77.44 L2053.5,77.45 L2054.0,77.46 L2054.5,77.46 L2055.0,77.47 L2055.5,77.47 L2056.0,77.48 L2056.5,77.48 L2057.0,77.48 L2057.5,77.49 L2058.0,77.49 L2058.5,77.49 L2059.0,77.49 L2059.5,77.50 L2060.0,77.50 L2060.5,77.50 L2061.5,77.50 L2065.0,77.50 L2066.0,77.50 L2066.5,77.50 L2067.0,77.49 L2067.5,77.49 L2068.0,77.49 L2068.5,77.49 L2069.0,77.49 L2069.5,77.49 L2070.0,77.49 L2070.5,77.48 L2071.0,77.48 L2071.5,77.48 L2072.0,77.48 L2072.5,77.48 L2073.0,77.47 L2073.5,77.47 L2074.0,77.47 L2074.5,77.47 L2075.0,77.47 L2075.5,77.46 L2076.0,77.46 L2076.5,77.46 L2077.0,77.46 L2077.5,77.46 L2078.0,77.45 L2078.5,77.45 L2079.0,77.45 L2079.5,77.45 L2080.0,77.45 L2080.5,77.44 L2081.0,77.44 L2081.5,77.44 L2082.0,77.44 L2082.5,77.44 L2083.0,77.43 L2083.5,77.43 L2084.0,77.43 L2084.5,77.43 L2085.0,77.43 L2085.5,77.43 L2086.0,77.42 L2086.5,77.42 L2087.0,77.42 L2087.5,77.42 L2088.0,77.42 L2088.5,77.42 L2089.0,77.42 L2089.5,77.42 L2090.0,77.41 L2090.5,77.41 L2091.0,77.41 L2091.5,77.41 L2092.5,77.41 L2093.5,77.41 L2094.5,77.41 L2095.5,77.40 L2096.5,77.40 L2097.5,77.40 L2098.5,77.40 L2100.0,77.40 L2101.5,77.40 L2103.0,77.40 L2105.0,77.40 L2108.5,77.40 L2122.5,77.40 L2128.0,77.40 L2134.0,77.40 L2143.0,77.40 L2181.0,77.40"/>
<path stroke="#0072C3" d="M300.3,703.8 H504.9"/>
<path stroke="#F9530A" d="M975,703.8 H1179.8"/>
</g>
<g fill="#212121" font-size="65px">
<g text-anchor="middle">
<text transform="translate(227.25,861.90) scale(1,1.024)">2.5</text>
<text transform="translate(444.53,861.90) scale(1,1.024)">3</text>
<text transform="translate(660.06,861.90) scale(1,1.024)">3.5</text>
<text transform="translate(878.58,861.90) scale(1,1.024)">4</text>
<text transform="translate(1094.11,861.90) scale(1,1.024)">4.5</text>
<text transform="translate(1310.39,861.90) scale(1,1.024)">5</text>
<text transform="translate(1527.17,861.90) scale(1,1.024)">5.5</text>
<text transform="translate(1744.94,861.90) scale(1,1.024)">6</text>
<text transform="translate(1960.22,861.90) scale(1,1.024)">6.5</text>
<text transform="translate(2178.00,861.90) scale(1,1.024)">7</text>
</g><g text-anchor="end">
<text transform="translate(196.55,65.90) scale(1,1.024)">7.5</text>
<text transform="translate(199.80,187.00) scale(1,1.024)">5</text>
<text transform="translate(197.30,308.90) scale(1,1.024)">2.5</text>
<text transform="translate(200.80,432.10) scale(1,1.024)">0</text>
<text transform="translate(0,553.90) scale(1,1.024)"><tspan x="119.85" y="6.64" fill="#000" stroke="#000" stroke-width="0.6">−</tspan><tspan x="198.50" y="0">2.5</tspan></text>
<text transform="translate(0,676.20) scale(1,1.024)"><tspan x="169.85" y="6.35" fill="#000" stroke="#000" stroke-width="0.6">−</tspan><tspan x="200.60" y="0">5</tspan></text>
<text transform="translate(0,798.90) scale(1,1.024)"><tspan x="121.90" y="3.81" fill="#000" stroke="#000" stroke-width="0.6">−</tspan><tspan x="198.50" y="0">7.5</tspan></text>
</g></g>
<g fill="#212121" font-size="75px" text-anchor="middle">
<text x="1201.6" y="955.5">Time (s)</text>
<text transform="translate(63.0,410.7) rotate(-90)">Power</text>
</g>
<g fill="#000" font-size="60px" letter-spacing="0.2">
<text x="520.2" y="723.7">Real power (kW)</text>
<text x="1195.2" y="723.7">Reactive power (kVAr)</text>
</g>
</svg></body></html>
